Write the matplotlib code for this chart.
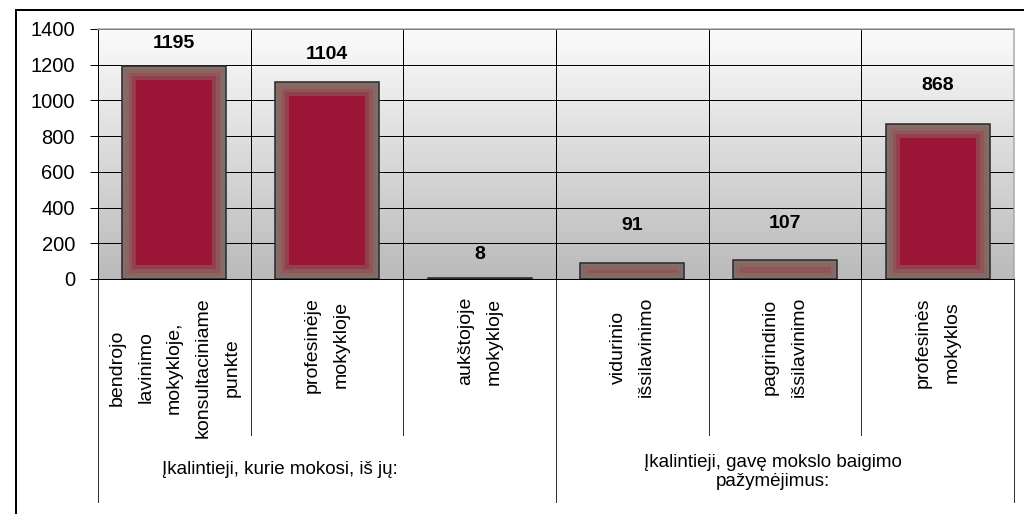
import numpy as np
import matplotlib
matplotlib.use('Agg')
from matplotlib import pyplot as plt
from matplotlib.lines import Line2D

# Donnees
categories = [
    "bendrojo\nlavinimo\nmokykloje,\nkonsultaciniame\npunkte",
    "profesinėje\nmokykloje",
    "aukštojoje\nmokykloje",
    "vidurinio\nišsilavinimo",
    "pagrindinio\nišsilavinimo",
    "profesinės\nmokyklos",
]
values = [1195, 1104, 8, 91, 107, 868]
groups = [
    "Įkalintieji, kurie mokosi, iš jų:",
    "Įkalintieji, gavę mokslo baigimo\npažymėjimus:",
]
yticks = [0, 200, 400, 600, 800, 1000, 1200, 1400]

# Style
plt.rcParams['font.family'] = ['Liberation Sans', 'DejaVu Sans']
BAR_RED = '#9b1537'
PX = 0.72  # 1 px en points (dpi 100)

fig = plt.figure(figsize=(10.24, 5.14), dpi=100)
ax = fig.add_axes([98 / 1024, 1 - 279 / 514, 916 / 1024, 250 / 514])

x = np.arange(len(values))

# fond degrade (blanc -> gris)
grad = np.linspace(0, 1, 256).reshape(-1, 1)
ax.imshow(grad, extent=[0, 1, 0, 1], transform=ax.transAxes, aspect='auto',
          cmap=matplotlib.colors.LinearSegmentedColormap.from_list('g', ['#fbfbfb', '#bababa']),
          origin='upper', zorder=0)

# grille
for t in yticks:
    ax.axhline(t, color='black', lw=1 * PX, zorder=1)
for b in x[:-1] + 0.5:
    ax.axvline(b, color='black', lw=1 * PX, zorder=1)

# barres avec bord flou (couches de bords rognes sur la barre)
w = 0.68
layers = [('#94404c', 28), ('#8f5559', 20), ('#8a6663', 13), ('#7f6e69', 6)]
first = True
for col, lw in layers:
    bars = ax.bar(x, values, width=w, color=BAR_RED if first else 'none',
                  edgecolor=col, linewidth=lw * PX, zorder=3)
    for p in bars:
        p.set_clip_path(p)
    first = False
ax.bar(x, values, width=w, fill=False, edgecolor='#2e2e2e',
       linewidth=1.6 * PX, zorder=5)

# etiquettes de valeurs
label_off = [22, 27, 23, 37, 36, 39]
for xi, v, off in zip(x, values, label_off):
    ax.annotate(str(v), (xi, v), xytext=(0, off * PX), textcoords='offset points',
                ha='center', va='center', fontsize=14, fontweight='bold', zorder=6)

ax.set_xlim(-0.5, len(values) - 0.5)
ax.set_ylim(0, 1400)
ax.set_yticks(yticks)
ax.tick_params(axis='y', labelsize=14.5, length=8 * PX, width=1 * PX, pad=15 * PX,
               direction='out', colors='black')
ax.set_xticks([])

ax.spines['left'].set_color('black')
ax.spines['left'].set_linewidth(1 * PX)
ax.spines['bottom'].set_color('black')
ax.spines['bottom'].set_linewidth(1 * PX)
for s in ['top', 'right']:
    ax.spines[s].set_color('#a8a8a8')
    ax.spines[s].set_linewidth(1.5 * PX)

# categories (texte vertical)
tr = ax.get_xaxis_transform()
for xi, lab in zip(x, categories):
    ax.text(xi, -0.072, lab, transform=tr, rotation=90, ha='center', va='top',
            multialignment='center', fontsize=14, linespacing=1.9)

# separateurs sous l'axe
for b in [0.5, 1.5, 3.5, 4.5]:
    ax.plot([b, b], [0, -0.624], transform=tr, color='#333333', lw=1 * PX, clip_on=False)
for b in [-0.5, 2.5, 5.5]:
    ax.plot([b, b], [0, -0.892], transform=tr, color='#333333', lw=1 * PX, clip_on=False)

# groupes
ax.text(0.69, -0.764, groups[0], transform=tr, ha='center', va='center', fontsize=13.5)
ax.text(3.92, -0.772, groups[1], transform=tr, ha='center', va='center', fontsize=13.5,
        linespacing=1.15)

# cadre exterieur
fig.add_artist(Line2D([16 / 1024, 16 / 1024], [0, 1 - 10 / 514], transform=fig.transFigure,
                      color='black', lw=2 * PX))
fig.add_artist(Line2D([16 / 1024, 1], [1 - 10 / 514, 1 - 10 / 514], transform=fig.transFigure,
                      color='black', lw=2 * PX))

plt.savefig('out.png', dpi=100)
plt.close()
